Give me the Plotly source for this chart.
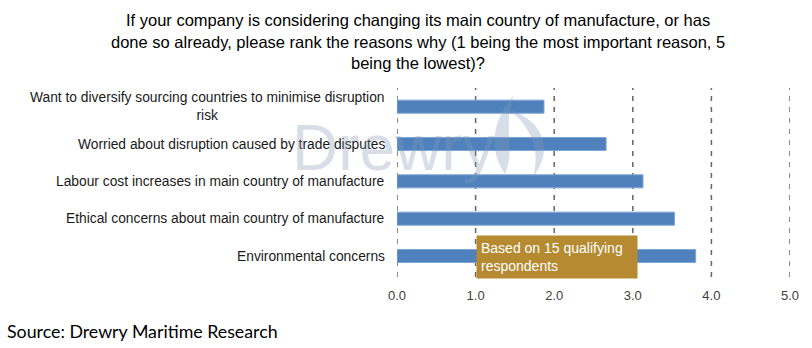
import plotly.graph_objects as go

# Survey answers: average rank per reason (1 = most important, 5 = lowest)
reasons = [
    "Want to diversify sourcing countries to minimise disruption<br>risk",
    "Worried about disruption caused by trade disputes",
    "Labour cost increases in main country of manufacture",
    "Ethical concerns about main country of manufacture",
    "Environmental concerns",
]
avg_rank = [1.87, 2.66, 3.13, 3.53, 3.80]
x_ticks = [0, 1, 2, 3, 4, 5]
x_tick_labels = ["0.0", "1.0", "2.0", "3.0", "4.0", "5.0"]

title_lines = [
    "If your company is considering changing its main country of manufacture, or has",
    "done so already, please rank the reasons why (1 being the most important reason, 5",
    "being the lowest)?",
]
note_text = "Based on 15 qualifying<br>respondents"
source_text = "Source: Drewry Maritime Research"

W, H = 812, 348
L, R, T, B = 397, 22, 88, 71
PW, PH = W - L - R, H - T - B
WATERMARK = "rgba(130,152,185,0.32)"


def px(x, y):
    """Pixel position in the page -> paper coordinates."""
    return (x - L) / PW, (H - B - y) / PH


fig = go.Figure()
fig.add_trace(go.Bar(
    x=avg_rank,
    y=reasons,
    orientation="h",
    width=0.35,
    marker=dict(color="#4F81BD", line=dict(color="#7FA4D4", width=1)),
    hoverinfo="x+y",
))

annotations = []

# Category labels, right-aligned to the axis with centred wrapped lines
for r in reasons:
    annotations.append(dict(
        x=0, y=r, xref="x", yref="y", text=r, showarrow=False,
        xanchor="right", yanchor="middle", align="center", xshift=-10,
        font=dict(family="Liberation Sans, Arial", size=13.8, color="#1a1a1a"),
    ))

# Title, one annotation per line
for i, line in enumerate(title_lines):
    tx, ty = px(418, 20 + i * 21.5)
    annotations.append(dict(
        x=tx, y=ty, xref="paper", yref="paper", text=line,
        showarrow=False, xanchor="center", yanchor="middle",
        font=dict(family="Liberation Sans, Arial", size=16.5, color="#000000"),
    ))

# Watermark
wx, wy = px(290, 148)
annotations.append(dict(
    x=wx, y=wy, xref="paper", yref="paper", text="Drewry", showarrow=False,
    xanchor="left", yanchor="middle",
    font=dict(family="Liberation Sans, Arial", size=64, color=WATERMARK),
))

# Respondent note box
annotations.append(dict(
    x=1.0, y=reasons[-1], xref="x", yref="y", text=note_text, showarrow=False,
    xanchor="left", yanchor="middle", align="left", yshift=-1,
    bgcolor="#B58A30", borderpad=4, width=152,
    font=dict(family="Liberation Sans, Arial", size=14, color="#FFFFFF"),
))

# Source line
sx, sy = px(5, 331)
annotations.append(dict(
    x=sx, y=sy, xref="paper", yref="paper", text=source_text, showarrow=False,
    xanchor="left", yanchor="middle",
    font=dict(family="Lato, Open Sans", size=17.8, color="#000000"),
))


def path(points):
    pts = [px(x, y) for x, y in points]
    d = "M {:.4f},{:.4f}".format(*pts[0])
    for i in range(1, len(pts) - 2, 3):
        d += " C {:.4f},{:.4f} {:.4f},{:.4f} {:.4f},{:.4f}".format(
            *pts[i], *pts[i + 1], *pts[i + 2])
    return d + " Z"


shapes = []

# Dashed vertical gridlines at every tick, including both ends of the axis
for t in x_ticks:
    shapes.append(dict(
        type="line", xref="x", yref="paper", x0=t, x1=t, y0=0, y1=1,
        line=dict(color="#666666", width=1.5, dash="5px,6px"), layer="below",
    ))

# Flame emblem beside the watermark
flame_left = path([(514, 95), (492, 120), (488, 150), (505, 174),
                   (516, 150), (502, 126), (514, 95)])
flame_right = path([(510, 110), (546, 122), (553, 152), (533, 177),
                    (541, 150), (531, 128), (510, 110)])
for p in (flame_left, flame_right):
    shapes.append(dict(type="path", path=p, xref="paper", yref="paper",
                       fillcolor=WATERMARK, line=dict(width=0), layer="above"))

fig.update_layout(
    width=W, height=H,
    margin=dict(l=L, r=R, t=T, b=B, pad=0),
    paper_bgcolor="white", plot_bgcolor="white",
    showlegend=False,
    annotations=annotations,
    shapes=shapes,
    xaxis=dict(
        range=[0, 5], tickvals=x_ticks, ticktext=x_tick_labels,
        showgrid=False, zeroline=False, showline=False,
        ticks="outside", ticklen=6, tickcolor="rgba(0,0,0,0)",
        tickfont=dict(family="Liberation Sans, Arial", size=13, color="#404040"),
    ),
    yaxis=dict(
        autorange="reversed", showticklabels=False, showgrid=False,
        zeroline=False, showline=False, ticks="",
    ),
)

fig.write_html("out.html")
